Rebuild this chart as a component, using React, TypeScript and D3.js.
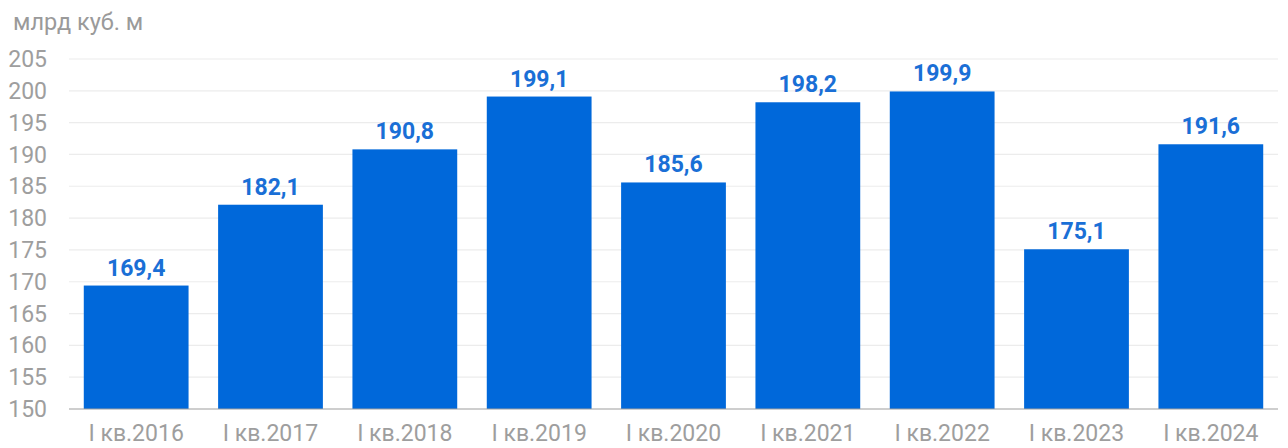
import React from "react";
import * as d3 from "d3";

const categories = ["I кв.2016", "I кв.2017", "I кв.2018", "I кв.2019", "I кв.2020", "I кв.2021", "I кв.2022", "I кв.2023", "I кв.2024"];
const values = [169.4, 182.1, 190.8, 199.1, 185.6, 198.2, 199.9, 175.1, 191.6];
const yTicks = [150, 155, 160, 165, 170, 175, 180, 185, 190, 195, 200, 205];
const unitLabel = "млрд куб. м";

const W = 1288;
const H = 448;
const left = 69;
const right = 1278;
const top = 59;
const bottom = 409;

export default function App() {
  const x = d3.scaleBand<string>().domain(categories).range([left, right]).paddingInner(0.22).paddingOuter(0.11);
  const y = d3.scaleLinear().domain([150, 205]).range([bottom, top]);
  const fmt = (v: number) => v.toFixed(1).replace(".", ",");
  const font = "Roboto, sans-serif";
  return (
    <svg width={W} height={H} style={{ position: "absolute", left: 0, top: 0, background: "#fff" }}>
      <text x={13} y={30} fontFamily={font} fontSize={23.5} fill="#9a9a9a">{unitLabel}</text>
      {yTicks.map((t) => (
        <g key={t}>
          {t !== 150 && <line x1={left} x2={right} y1={y(t)} y2={y(t)} stroke="#ececec" strokeWidth={1.2} />}
          <text x={47} y={y(t)} dy="0.35em" textAnchor="end" fontFamily={font} fontSize={23} fill="#9e9e9e">{t}</text>
        </g>
      ))}
      {categories.map((c, i) => (
        <g key={c}>
          <rect x={x(c)} y={y(values[i])} width={x.bandwidth()} height={bottom - y(values[i])} fill="#0068da" />
          <text x={(x(c) as number) + x.bandwidth() / 2} y={y(values[i]) - 10} textAnchor="middle" fontFamily={font} fontWeight="bold" fontSize={23} fill="#1a6fd6">{fmt(values[i])}</text>
          <text x={(x(c) as number) + x.bandwidth() / 2} y={441} textAnchor="middle" fontFamily={font} fontSize={23} fill="#9e9e9e">{c}</text>
        </g>
      ))}
      <line x1={left} x2={right} y1={bottom} y2={bottom} stroke="#9e9e9e" strokeWidth={1.2} />
    </svg>
  );
}
